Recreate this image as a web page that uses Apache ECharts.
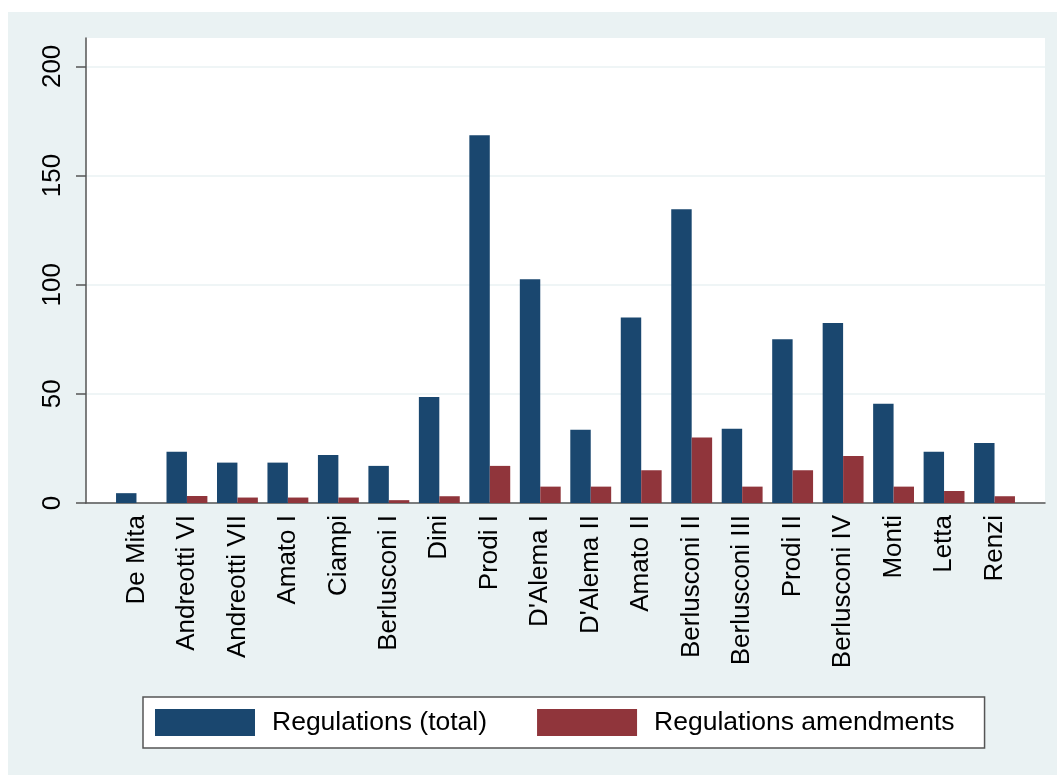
<!DOCTYPE html>
<html>
<head>
<meta charset="utf-8">
<script src="https://cdn.jsdelivr.net/npm/echarts@6/dist/echarts.min.js"></script>
<style>
  html, body { margin: 0; padding: 0; background: #ffffff; }
  #frame { position: absolute; left: 8px; top: 12px; width: 1049px; height: 763px; }
</style>
</head>
<body>
<div id="frame"></div>
<script>
// Italian governments, in chronological order
const governments = [
  'De Mita', 'Andreotti VI', 'Andreotti VII', 'Amato I', 'Ciampi', 'Berlusconi I',
  'Dini', 'Prodi I', "D'Alema I", "D'Alema II", 'Amato II', 'Berlusconi II',
  'Berlusconi III', 'Prodi II', 'Berlusconi IV', 'Monti', 'Letta', 'Renzi'
];
const regulationsTotal = [4.5, 23.5, 18.5, 18.5, 22, 17, 48.5, 168.5, 102.5, 33.5, 85, 134.5, 34, 75, 82.5, 45.5, 23.5, 27.5];
const regulationsAmendments = [0, 3.2, 2.5, 2.5, 2.5, 1.3, 3.1, 17, 7.5, 7.5, 15, 30, 7.5, 15, 21.5, 7.5, 5.5, 3.1];
const yTicks = [0, 50, 100, 150, 200];

const seriesNames = ['Regulations (total)', 'Regulations amendments'];
const colors = ['#1a476f', '#90353b'];
const FONT = "'Liberation Sans', Arial, Helvetica, sans-serif";

const chart = echarts.init(document.getElementById('frame'), null, { renderer: 'canvas' });

// governments sit at integer positions on a value axis, leaving a full slot of padding on each side
const toPairs = arr => arr.map((v, i) => [i, v]);

chart.setOption({
  backgroundColor: '#eaf2f3',
  animation: false,
  textStyle: { fontFamily: FONT },
  grid: {
    left: 78, right: 12, top: 26, bottom: 272,
    show: true, backgroundColor: '#ffffff', borderWidth: 0,
    containLabel: false
  },
  legend: {
    data: seriesNames,
    orient: 'horizontal',
    left: 135, top: 685,
    itemWidth: 100, itemHeight: 27, itemGap: 50,
    icon: 'rect',
    padding: [12, 30, 12, 12],
    backgroundColor: '#ffffff',
    borderColor: '#555555', borderWidth: 1.5,
    textStyle: { fontFamily: FONT, fontSize: 26.5, color: '#000', padding: [0, 0, 0, 12] }
  },
  xAxis: {
    type: 'value',
    min: -1, max: 18, interval: 1,
    axisLine: { show: true, onZero: false, lineStyle: { color: '#555555', width: 1.5 } },
    axisTick: { show: false },
    splitLine: { show: false },
    axisLabel: {
      rotate: 90, margin: 12,
      fontFamily: FONT, fontSize: 26, color: '#000',
      formatter: v => governments[v] || ''
    }
  },
  yAxis: {
    type: 'value',
    min: 0, max: 213,
    interval: 50,
    axisLine: { show: true, onZero: false, lineStyle: { color: '#555555', width: 1.5 } },
    axisTick: { show: true, length: 10, customValues: yTicks, lineStyle: { color: '#555555', width: 1.5 } },
    splitLine: { show: true, lineStyle: { color: '#eaf2f3', width: 1.5 } },
    axisLabel: {
      rotate: 90, margin: 20,
      customValues: yTicks,
      fontFamily: FONT, fontSize: 26, color: '#000',
      formatter: v => (v % 50 === 0 ? String(v) : '')
    }
  },
  series: [
    {
      name: seriesNames[0], type: 'bar',
      data: toPairs(regulationsTotal),
      itemStyle: { color: colors[0] },
      barGap: '0%', barCategoryGap: '19%'
    },
    {
      name: seriesNames[1], type: 'bar',
      data: toPairs(regulationsAmendments),
      itemStyle: { color: colors[1] },
      barGap: '0%', barCategoryGap: '19%'
    }
  ]
});
</script>
</body>
</html>
